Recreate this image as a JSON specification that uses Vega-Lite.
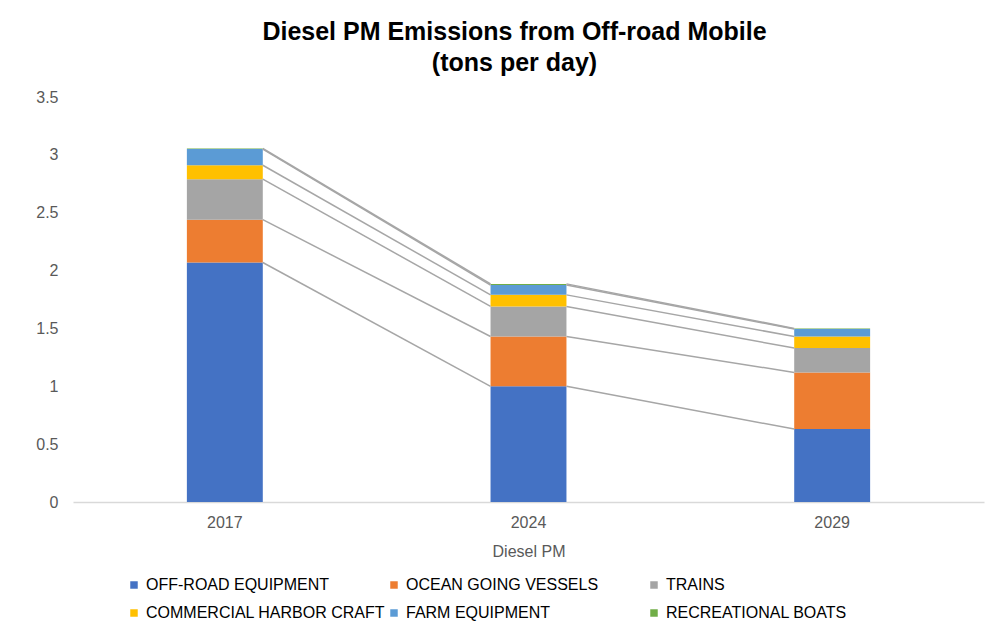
{
  "$schema": "https://vega.github.io/schema/vega-lite/v6.json",
  "width": 911,
  "height": 405,
  "autosize": "none",
  "padding": {"left": 73, "top": 97, "right": 21, "bottom": 130},
  "background": "white",
  "title": {
    "text": ["Diesel PM Emissions from Off-road Mobile", "(tons per day)"],
    "font": "Liberation Sans",
    "fontSize": 25,
    "fontWeight": "bold",
    "color": "#000000",
    "lineHeight": 31,
    "offset": 13,
    "anchor": "middle",
    "dx": -14
  },
  "data": {
    "values": [
      {"year": "2017", "category": "OFF-ROAD EQUIPMENT", "value": 2.07},
      {"year": "2017", "category": "OCEAN GOING VESSELS", "value": 0.37},
      {"year": "2017", "category": "TRAINS", "value": 0.35},
      {"year": "2017", "category": "COMMERCIAL HARBOR CRAFT", "value": 0.12},
      {"year": "2017", "category": "FARM EQUIPMENT", "value": 0.14},
      {"year": "2017", "category": "RECREATIONAL BOATS", "value": 0.005},
      {"year": "2024", "category": "OFF-ROAD EQUIPMENT", "value": 1.0},
      {"year": "2024", "category": "OCEAN GOING VESSELS", "value": 0.43},
      {"year": "2024", "category": "TRAINS", "value": 0.26},
      {"year": "2024", "category": "COMMERCIAL HARBOR CRAFT", "value": 0.1},
      {"year": "2024", "category": "FARM EQUIPMENT", "value": 0.085},
      {"year": "2024", "category": "RECREATIONAL BOATS", "value": 0.01},
      {"year": "2029", "category": "OFF-ROAD EQUIPMENT", "value": 0.63},
      {"year": "2029", "category": "OCEAN GOING VESSELS", "value": 0.49},
      {"year": "2029", "category": "TRAINS", "value": 0.21},
      {"year": "2029", "category": "COMMERCIAL HARBOR CRAFT", "value": 0.1},
      {"year": "2029", "category": "FARM EQUIPMENT", "value": 0.065},
      {"year": "2029", "category": "RECREATIONAL BOATS", "value": 0.005}
    ]
  },
  "transform": [
    {"calculate": "indexof(['OFF-ROAD EQUIPMENT','OCEAN GOING VESSELS','TRAINS','COMMERCIAL HARBOR CRAFT','FARM EQUIPMENT','RECREATIONAL BOATS'], datum.category)", "as": "k"}
  ],
  "layer": [
    {
      "mark": {"type": "bar"},
      "encoding": {
        "x": {"field": "year", "type": "nominal", "title": "Diesel PM"},
        "y": {"field": "value", "type": "quantitative", "stack": "zero", "title": null},
        "color": {
          "field": "category",
          "type": "nominal",
          "sort": ["OFF-ROAD EQUIPMENT", "OCEAN GOING VESSELS", "TRAINS", "COMMERCIAL HARBOR CRAFT", "FARM EQUIPMENT", "RECREATIONAL BOATS"],
          "scale": {
            "domain": ["OFF-ROAD EQUIPMENT", "OCEAN GOING VESSELS", "TRAINS", "COMMERCIAL HARBOR CRAFT", "FARM EQUIPMENT", "RECREATIONAL BOATS"],
            "range": ["#4472C4", "#ED7D31", "#A5A5A5", "#FFC000", "#5B9BD5", "#70AD47"]
          },
          "legend": {
            "title": null,
            "orient": "none",
            "legendX": 53,
            "legendY": 480,
            "direction": "horizontal",
            "columns": 3,
            "gridAlign": "all",
            "symbolType": "square",
            "symbolSize": 56,
            "symbolStrokeWidth": 0,
            "labelFont": "Liberation Sans",
            "labelFontSize": 16,
            "labelColor": "#000000",
            "labelOffset": 4,
            "labelLimit": 400,
            "columnPadding": 0,
            "rowPadding": 12
          }
        },
        "order": {"field": "k", "type": "quantitative"}
      }
    },
    {
      "transform": [
        {"stack": "value", "groupby": ["year"], "sort": [{"field": "k", "order": "ascending"}], "as": ["y0", "y1"]},
        {"window": [{"op": "lead", "field": "y1", "as": "y1n"}, {"op": "lead", "field": "year", "as": "yearn"}], "groupby": ["category"], "sort": [{"field": "year", "order": "ascending"}]},
        {"filter": "datum.yearn != null"}
      ],
      "mark": {"type": "rule", "color": "#A6A6A6", "strokeWidth": 1.5},
      "encoding": {
        "x": {"field": "year", "type": "nominal", "bandPosition": 1, "title": "Diesel PM"},
        "x2": {"field": "yearn", "bandPosition": 0},
        "y": {"field": "y1", "type": "quantitative", "title": null},
        "y2": {"field": "y1n"}
      }
    }
  ],
  "resolve": {"scale": {"x": "shared", "y": "shared"}},
  "encoding": {},
  "config": {
    "view": {"stroke": null},
    "font": "Liberation Sans",
    "scale": {"bandPaddingInner": 0.75, "bandPaddingOuter": 0.375},
    "axisX": {
      "labelAngle": 0,
      "labelFont": "Liberation Sans",
      "labelFontSize": 16,
      "labelColor": "#595959",
      "labelPadding": 12,
      "ticks": false,
      "domainColor": "#D9D9D9",
      "domainWidth": 1.5,
      "titleFont": "Liberation Sans",
      "titleFontSize": 16,
      "titleFontWeight": "normal",
      "titleColor": "#595959",
      "titlePadding": 13,
      "grid": false
    },
    "axisY": {
      "labelFont": "Liberation Sans",
      "labelFontSize": 16,
      "labelColor": "#595959",
      "labelPadding": 15,
      "ticks": false,
      "domain": false,
      "grid": false,
      "format": "~g",
      "values": [0, 0.5, 1, 1.5, 2, 2.5, 3, 3.5]
    }
  }
}
